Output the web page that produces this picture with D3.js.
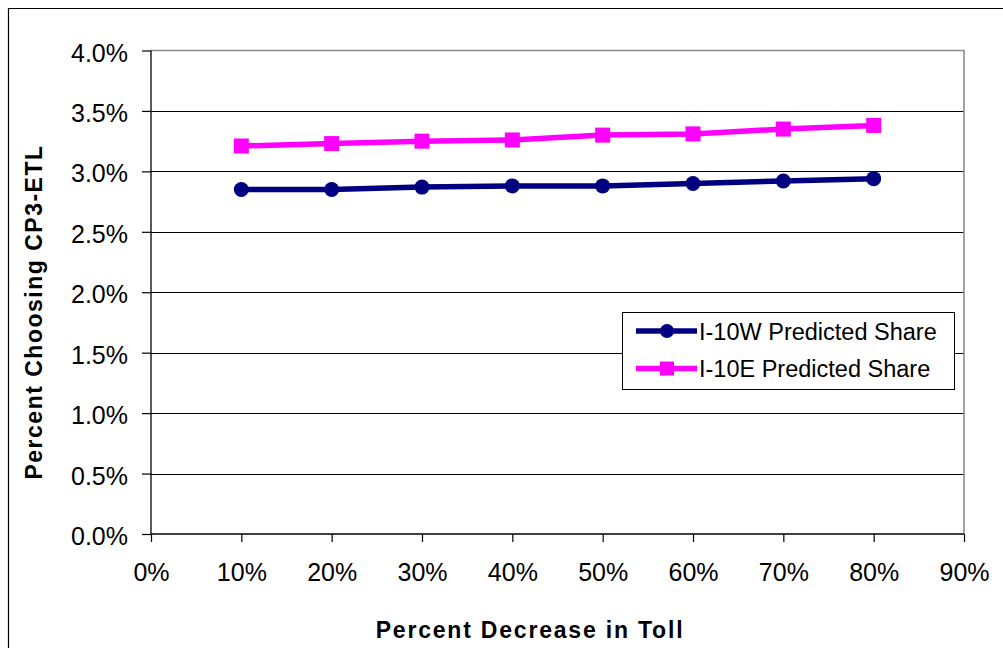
<!DOCTYPE html>
<html>
<head>
<meta charset="utf-8">
<script src="https://cdn.jsdelivr.net/npm/d3@7"></script>
<style>
body { margin: 0; background: #fff; }
text { font-family: Arial, "Liberation Sans", sans-serif; fill: #000; }
</style>
</head>
<body>
<script>
// percent decrease in toll (x) and predicted share choosing CP3-ETL (y, in %)
var tollCut = [10, 20, 30, 40, 50, 60, 70, 80];
var shareW = [2.85, 2.85, 2.87, 2.88, 2.88, 2.90, 2.92, 2.94];
var shareE = [3.21, 3.23, 3.25, 3.26, 3.30, 3.31, 3.35, 3.38];
var seriesNames = ["I-10W Predicted Share", "I-10E Predicted Share"];
var xTicks = [0, 10, 20, 30, 40, 50, 60, 70, 80, 90];
var yTicks = [0, 0.5, 1, 1.5, 2, 2.5, 3, 3.5, 4];

var width = 1003, height = 648;
var plotLeft = 151, plotRight = 964, plotTop = 50.5, plotBottom = 534;

var svg = d3.select("body").append("svg")
    .attr("width", width)
    .attr("height", height);

// outer chart border (right/bottom run off the picture)
svg.append("path")
    .attr("d", "M8.5," + height + "V8.5H" + width)
    .attr("fill", "none")
    .attr("stroke", "#000")
    .attr("stroke-width", 1.2);

var x = d3.scaleLinear().domain([0, 90]).range([plotLeft, plotRight]);
var y = d3.scaleLinear().domain([0, 4]).range([plotBottom, plotTop]);

// gridlines
svg.selectAll("line.grid")
    .data(yTicks.filter(function(d){ return d > 0 && d < 4; }))
    .enter().append("line")
    .attr("class", "grid")
    .attr("x1", plotLeft).attr("x2", plotRight)
    .attr("y1", function(d){ return Math.round(y(d)) + 0.5; })
    .attr("y2", function(d){ return Math.round(y(d)) + 0.5; })
    .attr("stroke", "#000")
    .attr("stroke-width", 1);

// plot area top / right border
svg.append("path")
    .attr("d", "M" + plotLeft + "," + plotTop + "H" + plotRight + "V" + plotBottom)
    .attr("fill", "none")
    .attr("stroke", "#8c8c8c")
    .attr("stroke-width", 1.6);

// axes
var yAxis = svg.append("g")
    .attr("transform", "translate(" + plotLeft + ",0)")
    .call(d3.axisLeft(y).tickValues(yTicks)
        .tickFormat(function(d){ return d3.format(".1f")(d) + "%"; })
        .tickSize(9).tickPadding(14));
yAxis.selectAll("text").style("font-size", "25px").attr("dy", "0.42em");

var xAxis = svg.append("g")
    .attr("transform", "translate(0," + plotBottom + ")")
    .call(d3.axisBottom(x).tickValues(xTicks)
        .tickFormat(function(d){ return d + "%"; })
        .tickSize(8).tickPadding(20));
xAxis.selectAll("text").style("font-size", "25px").attr("dy", "0.74em");

svg.selectAll(".domain").attr("stroke", "#000").attr("stroke-width", 1.3);
svg.selectAll(".tick line").attr("stroke", "#000").attr("stroke-width", 1.2);
xAxis.select(".domain").attr("d", "M" + plotLeft + ",0H" + plotRight);
yAxis.select(".domain").attr("d", "M0," + plotBottom + "V" + plotTop);

// lines
var line = d3.line()
    .x(function(d, i){ return x(tollCut[i]); })
    .y(function(d){ return y(d); });

svg.append("path").datum(shareW)
    .attr("d", line)
    .attr("fill", "none")
    .attr("stroke", "#000080")
    .attr("stroke-width", 5.5);

svg.append("path").datum(shareE)
    .attr("d", line)
    .attr("fill", "none")
    .attr("stroke", "#ff00ff")
    .attr("stroke-width", 5.5);

// markers
svg.selectAll("circle.w")
    .data(shareW)
    .enter().append("circle")
    .attr("class", "w")
    .attr("cx", function(d, i){ return x(tollCut[i]); })
    .attr("cy", function(d){ return y(d); })
    .attr("r", 7.5)
    .attr("fill", "#000080");

svg.selectAll("rect.e")
    .data(shareE)
    .enter().append("rect")
    .attr("class", "e")
    .attr("x", function(d, i){ return x(tollCut[i]) - 7.5; })
    .attr("y", function(d){ return y(d) - 7.5; })
    .attr("width", 15)
    .attr("height", 15)
    .attr("fill", "#ff00ff");

// legend
var legend = svg.append("g");
legend.append("rect")
    .attr("x", 622.5).attr("y", 312.5)
    .attr("width", 332).attr("height", 77)
    .attr("fill", "#fff")
    .attr("stroke", "#000")
    .attr("stroke-width", 1);

var legendColors = ["#000080", "#ff00ff"];
var rows = legend.selectAll("g.item")
    .data(seriesNames)
    .enter().append("g")
    .attr("class", "item")
    .attr("transform", function(d, i){ return "translate(0," + (331 + i * 37.5) + ")"; });

rows.append("line")
    .attr("x1", 636).attr("x2", 697)
    .attr("y1", 0).attr("y2", 0)
    .attr("stroke", function(d, i){ return legendColors[i]; })
    .attr("stroke-width", 5.5);

rows.filter(function(d, i){ return i == 0; }).append("circle")
    .attr("cx", 667).attr("cy", 0).attr("r", 7)
    .attr("fill", legendColors[0]);

rows.filter(function(d, i){ return i == 1; }).append("rect")
    .attr("x", 660).attr("y", -7).attr("width", 14).attr("height", 14)
    .attr("fill", legendColors[1]);

rows.append("text")
    .attr("x", 699)
    .attr("y", 8.5)
    .style("font-size", "23.5px")
    .text(function(d){ return d; });

// axis titles
svg.append("text")
    .attr("x", 530)
    .attr("y", 638)
    .attr("text-anchor", "middle")
    .style("font-size", "23px")
    .style("font-weight", "bold")
    .style("letter-spacing", "1.8px")
    .text("Percent Decrease in Toll");

svg.append("text")
    .attr("transform", "translate(42,312) rotate(-90)")
    .attr("text-anchor", "middle")
    .style("font-size", "23px")
    .style("font-weight", "bold")
    .style("letter-spacing", "1.5px")
    .text("Percent Choosing CP3-ETL");
</script>
</body>
</html>
